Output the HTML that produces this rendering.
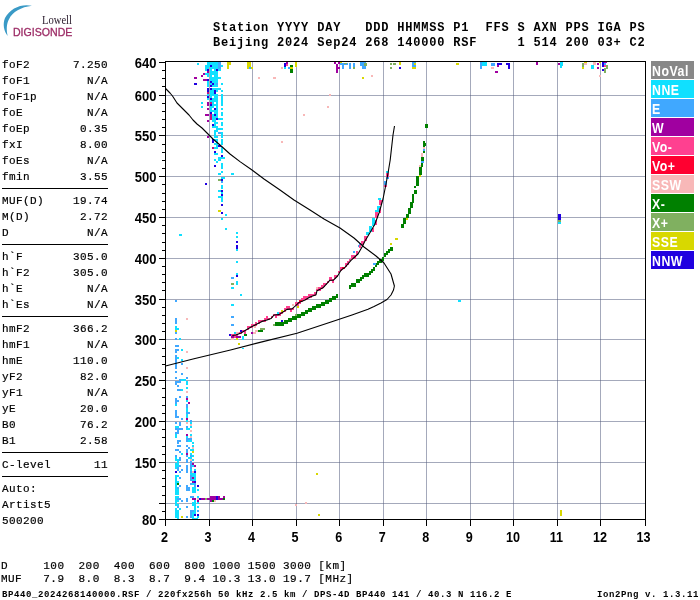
<!DOCTYPE html>
<html><head><meta charset="utf-8"><title>Ionogram</title>
<style>
html,body{margin:0;padding:0;background:#fff;}
body{width:700px;height:600px;position:relative;overflow:hidden;font-family:"Liberation Mono",monospace;color:#000;}
.t{position:absolute;white-space:pre;font-family:"Liberation Mono",monospace;font-size:11px;letter-spacing:0.4px;line-height:16px;height:16px;-webkit-text-stroke:0.2px #000;}
.v{text-align:right;width:106px;left:2px;}
.hd{position:absolute;white-space:pre;font-family:"Liberation Mono",monospace;font-weight:bold;font-size:12px;letter-spacing:0.81px;line-height:16px;left:213px;}
.ft{position:absolute;white-space:pre;font-family:"Liberation Mono",monospace;font-weight:bold;font-size:9px;letter-spacing:0.6px;line-height:12px;}
.hr{position:absolute;left:2px;width:106px;height:1px;background:#000;}
.lg{position:absolute;left:651px;width:43px;height:18px;color:#fff;font-family:"Liberation Sans",sans-serif;font-weight:bold;font-size:13px;line-height:18px;text-indent:2px;white-space:pre;}
svg{position:absolute;left:0;top:0;}
svg text{font-family:"Liberation Sans",sans-serif;font-weight:bold;font-size:14px;fill:#000;}
</style></head><body><div id="wrap" style="position:absolute;left:0;top:0;width:700px;height:600px;will-change:transform;">

<div class="t" style="left:2px;top:57px">foF2</div>
<div class="t v" style="top:57px">7.250</div>
<div class="t" style="left:2px;top:73px">foF1</div>
<div class="t v" style="top:73px">N/A</div>
<div class="t" style="left:2px;top:89px">foF1p</div>
<div class="t v" style="top:89px">N/A</div>
<div class="t" style="left:2px;top:105px">foE</div>
<div class="t v" style="top:105px">N/A</div>
<div class="t" style="left:2px;top:121px">foEp</div>
<div class="t v" style="top:121px">0.35</div>
<div class="t" style="left:2px;top:137px">fxI</div>
<div class="t v" style="top:137px">8.00</div>
<div class="t" style="left:2px;top:153px">foEs</div>
<div class="t v" style="top:153px">N/A</div>
<div class="t" style="left:2px;top:169px">fmin</div>
<div class="t v" style="top:169px">3.55</div>
<div class="t" style="left:2px;top:193px">MUF(D)</div>
<div class="t v" style="top:193px">19.74</div>
<div class="t" style="left:2px;top:209px">M(D)</div>
<div class="t v" style="top:209px">2.72</div>
<div class="t" style="left:2px;top:225px">D</div>
<div class="t v" style="top:225px">N/A</div>
<div class="t" style="left:2px;top:249px">h`F</div>
<div class="t v" style="top:249px">305.0</div>
<div class="t" style="left:2px;top:265px">h`F2</div>
<div class="t v" style="top:265px">305.0</div>
<div class="t" style="left:2px;top:281px">h`E</div>
<div class="t v" style="top:281px">N/A</div>
<div class="t" style="left:2px;top:297px">h`Es</div>
<div class="t v" style="top:297px">N/A</div>
<div class="t" style="left:2px;top:321px">hmF2</div>
<div class="t v" style="top:321px">366.2</div>
<div class="t" style="left:2px;top:337px">hmF1</div>
<div class="t v" style="top:337px">N/A</div>
<div class="t" style="left:2px;top:353px">hmE</div>
<div class="t v" style="top:353px">110.0</div>
<div class="t" style="left:2px;top:369px">yF2</div>
<div class="t v" style="top:369px">82.0</div>
<div class="t" style="left:2px;top:385px">yF1</div>
<div class="t v" style="top:385px">N/A</div>
<div class="t" style="left:2px;top:401px">yE</div>
<div class="t v" style="top:401px">20.0</div>
<div class="t" style="left:2px;top:417px">B0</div>
<div class="t v" style="top:417px">76.2</div>
<div class="t" style="left:2px;top:433px">B1</div>
<div class="t v" style="top:433px">2.58</div>
<div class="t" style="left:2px;top:457px">C-level</div>
<div class="t v" style="top:457px">11</div>
<div class="t" style="left:2px;top:481px">Auto:</div>
<div class="t" style="left:2px;top:497px">Artist5</div>
<div class="t" style="left:2px;top:513px">500200</div>
<div class="hr" style="top:188px"></div>
<div class="hr" style="top:244px"></div>
<div class="hr" style="top:316px"></div>
<div class="hr" style="top:452px"></div>
<div class="hr" style="top:476px"></div>
<div class="hd" style="top:20px">Station YYYY DAY   DDD HHMMSS P1  FFS S AXN PPS IGA PS</div>
<div class="hd" style="top:35px">Beijing 2024 Sep24 268 140000 RSF     1 514 200 03+ C2</div>
<div class="t" style="left:1px;top:558px;letter-spacing:0.45px">D     100  200  400  600  800 1000 1500 3000 [km]</div>
<div class="t" style="left:1px;top:571px;letter-spacing:0.45px">MUF   7.9  8.0  8.3  8.7  9.4 10.3 13.0 19.7 [MHz]</div>
<div class="ft" style="left:2px;top:589px">BP440_2024268140000.RSF / 220fx256h 50 kHz 2.5 km / DPS-4D BP440 141 / 40.3 N 116.2 E</div>
<div class="ft" style="left:597px;top:589px">Ion2Png v. 1.3.11</div>
<div class="lg" style="top:61px;background:#888888"></div>
<div class="lg" style="top:80px;background:#10e0ff"></div>
<div class="lg" style="top:99px;background:#40a8ff"></div>
<div class="lg" style="top:118px;background:#a000a0"></div>
<div class="lg" style="top:137px;background:#ff4090"></div>
<div class="lg" style="top:156px;background:#ff0030"></div>
<div class="lg" style="top:175px;background:#f8b8b8"></div>
<div class="lg" style="top:194px;background:#008000"></div>
<div class="lg" style="top:213px;background:#80b060"></div>
<div class="lg" style="top:232px;background:#d8d800"></div>
<div class="lg" style="top:251px;background:#2000e0"></div>
<svg width="160" height="60" viewBox="0 0 160 60">
<path d="M32 5.8 C 22 3.3, 10 8, 5 18 C 2.5 24, 3.8 31, 7.7 36 C 6.3 30, 6.4 24, 9 19.3 C 12.5 12, 21 7, 32 5.8 Z" fill="#3a9ac6"/>
<text x="42" y="23.8" style="font-family:'Liberation Serif',serif;font-weight:normal;font-size:11.5px;fill:#2e2030" textLength="30" lengthAdjust="spacingAndGlyphs">Lowell</text>
<text x="12.9" y="36.2" style="font-family:'Liberation Sans',sans-serif;font-weight:normal;font-size:11.5px;fill:#9c2c66;stroke:#9c2c66;stroke-width:0.3px" textLength="59.5" lengthAdjust="spacingAndGlyphs">DIGISONDE</text>
</svg>
<svg width="700" height="600" viewBox="0 0 700 600" shape-rendering="crispEdges">
<rect x="166" y="503" width="479" height="1" fill="#a4a9bb"/>
<rect x="166" y="462" width="479" height="1" fill="#a4a9bb"/>
<rect x="166" y="421" width="479" height="1" fill="#a4a9bb"/>
<rect x="166" y="380" width="479" height="1" fill="#a4a9bb"/>
<rect x="166" y="339" width="479" height="1" fill="#a4a9bb"/>
<rect x="166" y="299" width="479" height="1" fill="#a4a9bb"/>
<rect x="166" y="258" width="479" height="1" fill="#a4a9bb"/>
<rect x="166" y="217" width="479" height="1" fill="#a4a9bb"/>
<rect x="166" y="176" width="479" height="1" fill="#a4a9bb"/>
<rect x="166" y="135" width="479" height="1" fill="#a4a9bb"/>
<rect x="166" y="95" width="479" height="1" fill="#a4a9bb"/>
<rect x="209" y="62" width="1" height="457" fill="#a4a9bb"/>
<rect x="252" y="62" width="1" height="457" fill="#a4a9bb"/>
<rect x="296" y="62" width="1" height="457" fill="#a4a9bb"/>
<rect x="339" y="62" width="1" height="457" fill="#a4a9bb"/>
<rect x="383" y="62" width="1" height="457" fill="#a4a9bb"/>
<rect x="426" y="62" width="1" height="457" fill="#a4a9bb"/>
<rect x="470" y="62" width="1" height="457" fill="#a4a9bb"/>
<rect x="513" y="62" width="1" height="457" fill="#a4a9bb"/>
<rect x="557" y="62" width="1" height="457" fill="#a4a9bb"/>
<rect x="600" y="62" width="1" height="457" fill="#a4a9bb"/>
<rect x="209" y="503" width="1" height="1" fill="#7a8098"/>
<rect x="209" y="462" width="1" height="1" fill="#7a8098"/>
<rect x="209" y="421" width="1" height="1" fill="#7a8098"/>
<rect x="209" y="380" width="1" height="1" fill="#7a8098"/>
<rect x="209" y="339" width="1" height="1" fill="#7a8098"/>
<rect x="209" y="299" width="1" height="1" fill="#7a8098"/>
<rect x="209" y="258" width="1" height="1" fill="#7a8098"/>
<rect x="209" y="217" width="1" height="1" fill="#7a8098"/>
<rect x="209" y="176" width="1" height="1" fill="#7a8098"/>
<rect x="209" y="135" width="1" height="1" fill="#7a8098"/>
<rect x="209" y="95" width="1" height="1" fill="#7a8098"/>
<rect x="252" y="503" width="1" height="1" fill="#7a8098"/>
<rect x="252" y="462" width="1" height="1" fill="#7a8098"/>
<rect x="252" y="421" width="1" height="1" fill="#7a8098"/>
<rect x="252" y="380" width="1" height="1" fill="#7a8098"/>
<rect x="252" y="339" width="1" height="1" fill="#7a8098"/>
<rect x="252" y="299" width="1" height="1" fill="#7a8098"/>
<rect x="252" y="258" width="1" height="1" fill="#7a8098"/>
<rect x="252" y="217" width="1" height="1" fill="#7a8098"/>
<rect x="252" y="176" width="1" height="1" fill="#7a8098"/>
<rect x="252" y="135" width="1" height="1" fill="#7a8098"/>
<rect x="252" y="95" width="1" height="1" fill="#7a8098"/>
<rect x="296" y="503" width="1" height="1" fill="#7a8098"/>
<rect x="296" y="462" width="1" height="1" fill="#7a8098"/>
<rect x="296" y="421" width="1" height="1" fill="#7a8098"/>
<rect x="296" y="380" width="1" height="1" fill="#7a8098"/>
<rect x="296" y="339" width="1" height="1" fill="#7a8098"/>
<rect x="296" y="299" width="1" height="1" fill="#7a8098"/>
<rect x="296" y="258" width="1" height="1" fill="#7a8098"/>
<rect x="296" y="217" width="1" height="1" fill="#7a8098"/>
<rect x="296" y="176" width="1" height="1" fill="#7a8098"/>
<rect x="296" y="135" width="1" height="1" fill="#7a8098"/>
<rect x="296" y="95" width="1" height="1" fill="#7a8098"/>
<rect x="339" y="503" width="1" height="1" fill="#7a8098"/>
<rect x="339" y="462" width="1" height="1" fill="#7a8098"/>
<rect x="339" y="421" width="1" height="1" fill="#7a8098"/>
<rect x="339" y="380" width="1" height="1" fill="#7a8098"/>
<rect x="339" y="339" width="1" height="1" fill="#7a8098"/>
<rect x="339" y="299" width="1" height="1" fill="#7a8098"/>
<rect x="339" y="258" width="1" height="1" fill="#7a8098"/>
<rect x="339" y="217" width="1" height="1" fill="#7a8098"/>
<rect x="339" y="176" width="1" height="1" fill="#7a8098"/>
<rect x="339" y="135" width="1" height="1" fill="#7a8098"/>
<rect x="339" y="95" width="1" height="1" fill="#7a8098"/>
<rect x="383" y="503" width="1" height="1" fill="#7a8098"/>
<rect x="383" y="462" width="1" height="1" fill="#7a8098"/>
<rect x="383" y="421" width="1" height="1" fill="#7a8098"/>
<rect x="383" y="380" width="1" height="1" fill="#7a8098"/>
<rect x="383" y="339" width="1" height="1" fill="#7a8098"/>
<rect x="383" y="299" width="1" height="1" fill="#7a8098"/>
<rect x="383" y="258" width="1" height="1" fill="#7a8098"/>
<rect x="383" y="217" width="1" height="1" fill="#7a8098"/>
<rect x="383" y="176" width="1" height="1" fill="#7a8098"/>
<rect x="383" y="135" width="1" height="1" fill="#7a8098"/>
<rect x="383" y="95" width="1" height="1" fill="#7a8098"/>
<rect x="426" y="503" width="1" height="1" fill="#7a8098"/>
<rect x="426" y="462" width="1" height="1" fill="#7a8098"/>
<rect x="426" y="421" width="1" height="1" fill="#7a8098"/>
<rect x="426" y="380" width="1" height="1" fill="#7a8098"/>
<rect x="426" y="339" width="1" height="1" fill="#7a8098"/>
<rect x="426" y="299" width="1" height="1" fill="#7a8098"/>
<rect x="426" y="258" width="1" height="1" fill="#7a8098"/>
<rect x="426" y="217" width="1" height="1" fill="#7a8098"/>
<rect x="426" y="176" width="1" height="1" fill="#7a8098"/>
<rect x="426" y="135" width="1" height="1" fill="#7a8098"/>
<rect x="426" y="95" width="1" height="1" fill="#7a8098"/>
<rect x="470" y="503" width="1" height="1" fill="#7a8098"/>
<rect x="470" y="462" width="1" height="1" fill="#7a8098"/>
<rect x="470" y="421" width="1" height="1" fill="#7a8098"/>
<rect x="470" y="380" width="1" height="1" fill="#7a8098"/>
<rect x="470" y="339" width="1" height="1" fill="#7a8098"/>
<rect x="470" y="299" width="1" height="1" fill="#7a8098"/>
<rect x="470" y="258" width="1" height="1" fill="#7a8098"/>
<rect x="470" y="217" width="1" height="1" fill="#7a8098"/>
<rect x="470" y="176" width="1" height="1" fill="#7a8098"/>
<rect x="470" y="135" width="1" height="1" fill="#7a8098"/>
<rect x="470" y="95" width="1" height="1" fill="#7a8098"/>
<rect x="513" y="503" width="1" height="1" fill="#7a8098"/>
<rect x="513" y="462" width="1" height="1" fill="#7a8098"/>
<rect x="513" y="421" width="1" height="1" fill="#7a8098"/>
<rect x="513" y="380" width="1" height="1" fill="#7a8098"/>
<rect x="513" y="339" width="1" height="1" fill="#7a8098"/>
<rect x="513" y="299" width="1" height="1" fill="#7a8098"/>
<rect x="513" y="258" width="1" height="1" fill="#7a8098"/>
<rect x="513" y="217" width="1" height="1" fill="#7a8098"/>
<rect x="513" y="176" width="1" height="1" fill="#7a8098"/>
<rect x="513" y="135" width="1" height="1" fill="#7a8098"/>
<rect x="513" y="95" width="1" height="1" fill="#7a8098"/>
<rect x="557" y="503" width="1" height="1" fill="#7a8098"/>
<rect x="557" y="462" width="1" height="1" fill="#7a8098"/>
<rect x="557" y="421" width="1" height="1" fill="#7a8098"/>
<rect x="557" y="380" width="1" height="1" fill="#7a8098"/>
<rect x="557" y="339" width="1" height="1" fill="#7a8098"/>
<rect x="557" y="299" width="1" height="1" fill="#7a8098"/>
<rect x="557" y="258" width="1" height="1" fill="#7a8098"/>
<rect x="557" y="217" width="1" height="1" fill="#7a8098"/>
<rect x="557" y="176" width="1" height="1" fill="#7a8098"/>
<rect x="557" y="135" width="1" height="1" fill="#7a8098"/>
<rect x="557" y="95" width="1" height="1" fill="#7a8098"/>
<rect x="600" y="503" width="1" height="1" fill="#7a8098"/>
<rect x="600" y="462" width="1" height="1" fill="#7a8098"/>
<rect x="600" y="421" width="1" height="1" fill="#7a8098"/>
<rect x="600" y="380" width="1" height="1" fill="#7a8098"/>
<rect x="600" y="339" width="1" height="1" fill="#7a8098"/>
<rect x="600" y="299" width="1" height="1" fill="#7a8098"/>
<rect x="600" y="258" width="1" height="1" fill="#7a8098"/>
<rect x="600" y="217" width="1" height="1" fill="#7a8098"/>
<rect x="600" y="176" width="1" height="1" fill="#7a8098"/>
<rect x="600" y="135" width="1" height="1" fill="#7a8098"/>
<rect x="600" y="95" width="1" height="1" fill="#7a8098"/>
<path fill="#d8d800" d="M584 62h3v1h-3zM599 62h2v1h-2zM340 62h2v1h-2zM227 61h4v4h-4zM399 62h2v3h-2zM414 63h2v2h-2zM456 63h3v2h-3zM247 62h4v5h-4zM295 62h2v5h-2zM227 65h2v4h-2zM251 67h2v2h-2zM247 67h2v2h-2zM412 67h4v2h-4zM290 67h3v2h-3zM582 67h2v2h-2zM362 77h2v2h-2zM419 175h2v2h-2zM218 210h3v2h-3zM406 218h2v2h-2zM395 238h3v2h-3zM390 243h2v2h-2zM297 306h2v2h-2zM281 310h2v2h-2zM175 330h2v2h-2zM236 338h2v2h-2zM238 343h2v2h-2zM192 451h2v2h-2zM316 473h2v2h-2zM560 510h2v6h-2zM318 514h2v2h-2zM181 516h2v2h-2z"/>
<path fill="#40a8ff" d="M360 62h6v1h-6zM412 62h4v1h-4zM340 63h4v1h-4zM347 63h1v1h-1zM604 63h2v2h-2zM412 63h2v2h-2zM340 64h8v1h-8zM360 63h4v3h-4zM491 63h4v3h-4zM353 63h2v4h-2zM412 65h4v2h-4zM218 61h3v8h-3zM480 62h2v7h-2zM349 63h2v6h-2zM342 65h2v4h-2zM362 66h4v3h-4zM288 67h2v2h-2zM249 67h2v2h-2zM216 83h2v2h-2zM218 132h3v2h-3zM423 149h2v2h-2zM421 161h3v2h-3zM386 177h3v2h-3zM221 181h2v2h-2zM384 181h3v4h-3zM359 243h2v2h-2zM358 245h1v2h-1zM353 251h2v2h-2zM373 263h3v2h-3zM231 277h3v2h-3zM175 300h2v2h-2zM231 316h3v2h-3zM175 318h2v6h-2zM231 324h3v2h-3zM175 332h2v2h-2zM175 338h2v2h-2zM175 345h4v2h-4zM175 349h4v2h-4zM175 351h2v2h-2zM181 363h2v2h-2zM175 355h2v14h-2zM175 371h2v2h-2zM181 373h2v2h-2zM186 377h2v2h-2zM175 377h2v2h-2zM179 379h2v2h-2zM175 381h6v2h-6zM175 383h2v2h-2zM177 385h2v2h-2zM177 389h4v2h-4zM179 396h2v2h-2zM186 396h2v2h-2zM175 398h2v2h-2zM175 400h4v2h-4zM175 402h2v2h-2zM186 404h2v4h-2zM186 412h4v2h-4zM175 410h2v6h-2zM175 416h4v2h-4zM181 418h2v2h-2zM190 420h2v2h-2zM175 422h2v2h-2zM179 422h2v4h-2zM186 426h2v2h-2zM175 428h8v2h-8zM177 430h2v2h-2zM175 432h4v2h-4zM186 438h6v2h-6zM177 440h4v2h-4zM186 440h2v2h-2zM177 442h2v2h-2zM177 445h4v2h-4zM186 445h2v2h-2zM188 447h2v2h-2zM175 449h4v2h-4zM186 449h2v4h-2zM179 451h2v2h-2zM186 455h2v2h-2zM190 455h2v2h-2zM175 455h2v2h-2zM179 457h2v4h-2zM186 459h2v4h-2zM179 465h2v2h-2zM190 461h2v8h-2zM177 467h2v4h-2zM181 469h2v2h-2zM186 465h2v8h-2zM179 471h2v2h-2zM190 471h2v2h-2zM179 477h2v2h-2zM190 475h2v6h-2zM190 483h2v2h-2zM194 483h2v4h-2zM186 485h2v2h-2zM179 485h2v2h-2zM177 487h2v2h-2zM186 487h4v4h-4zM190 496h4v2h-4zM177 498h4v2h-4zM186 498h2v4h-2zM181 500h2v2h-2zM177 506h2v2h-2zM186 506h2v2h-2zM190 510h4v2h-4zM197 510h2v2h-2zM190 512h2v6h-2zM186 516h2v2h-2z"/>
<path fill="#a000a0" d="M604 62h3v1h-3zM286 62h2v2h-2zM338 62h2v2h-2zM334 62h2v2h-2zM536 62h2v3h-2zM597 63h2v2h-2zM558 63h2v2h-2zM336 64h2v3h-2zM497 65h2v2h-2zM336 67h4v2h-4zM597 67h2v2h-2zM336 69h2v4h-2zM207 71h2v2h-2zM495 71h3v2h-3zM203 73h2v2h-2zM201 75h2v2h-2zM194 77h3v2h-3zM203 79h4v2h-4zM207 102h2v4h-2zM207 108h2v2h-2zM205 114h4v2h-4zM207 120h2v2h-2zM207 136h2v2h-2zM251 332h2v2h-2zM231 336h3v2h-3zM236 336h5v2h-5zM186 398h2v2h-2zM188 402h2v2h-2zM186 418h2v2h-2zM186 434h2v2h-2zM186 453h2v2h-2zM192 463h2v2h-2zM194 465h2v2h-2zM192 477h2v2h-2zM192 481h2v2h-2zM223 496h2v2h-2zM210 496h6v2h-6zM218 496h2v2h-2zM192 498h4v2h-4zM218 498h5v2h-5zM201 498h4v2h-4zM207 498h9v2h-9zM210 500h2v2h-2zM197 500h2v2h-2z"/>
<path fill="#80b060" d="M344 63h3v1h-3zM393 63h3v2h-3zM390 63h2v2h-2zM364 63h3v3h-3zM582 63h2v4h-2zM606 65h2v3h-2zM353 67h2v2h-2zM390 67h2v2h-2zM604 68h4v1h-4zM604 69h2v4h-2zM218 179h3v2h-3zM558 220h3v2h-3zM231 283h3v2h-3zM295 314h2v2h-2zM273 324h2v2h-2zM260 328h5v2h-5zM205 498h2v2h-2z"/>
<path fill="#10e0ff" d="M207 61h11v4h-11zM197 63h2v2h-2zM482 62h5v4h-5zM560 62h3v4h-3zM212 65h6v2h-6zM221 65h2v2h-2zM205 65h5v2h-5zM560 66h2v2h-2zM591 65h3v4h-3zM205 67h4v2h-4zM210 67h8v2h-8zM284 67h2v2h-2zM205 69h2v2h-2zM214 69h2v2h-2zM218 69h3v2h-3zM210 69h2v2h-2zM210 71h8v4h-8zM205 73h4v2h-4zM214 75h4v2h-4zM207 75h2v2h-2zM210 75h2v2h-2zM210 77h11v2h-11zM210 79h8v2h-8zM212 81h6v2h-6zM214 83h2v2h-2zM210 83h2v2h-2zM221 83h2v2h-2zM207 81h2v6h-2zM212 85h6v2h-6zM212 88h9v2h-9zM221 90h2v2h-2zM216 90h2v2h-2zM210 90h4v4h-4zM210 94h8v2h-8zM207 94h2v2h-2zM214 96h4v2h-4zM210 96h2v2h-2zM207 98h2v2h-2zM212 98h6v2h-6zM210 100h8v2h-8zM212 102h2v2h-2zM201 102h2v2h-2zM216 102h2v2h-2zM221 94h2v12h-2zM212 104h6v2h-6zM210 106h4v2h-4zM201 106h2v2h-2zM216 106h2v4h-2zM221 108h2v2h-2zM210 108h2v2h-2zM210 110h8v2h-8zM214 112h4v2h-4zM221 112h2v4h-2zM212 114h2v2h-2zM216 114h2v2h-2zM212 116h6v2h-6zM218 118h5v2h-5zM212 118h4v4h-4zM214 122h4v2h-4zM221 122h2v4h-2zM214 124h2v2h-2zM212 126h6v2h-6zM216 128h7v2h-7zM214 130h4v2h-4zM214 132h2v4h-2zM221 132h2v6h-2zM214 136h4v2h-4zM214 139h4v2h-4zM216 141h2v2h-2zM221 139h2v6h-2zM214 143h4v2h-4zM216 145h2v2h-2zM214 147h4v2h-4zM221 147h2v6h-2zM214 153h4v2h-4zM218 157h7v2h-7zM218 159h3v2h-3zM214 159h2v2h-2zM216 161h2v2h-2zM221 163h2v6h-2zM386 171h3v2h-3zM221 171h2v2h-2zM231 173h3v2h-3zM218 173h3v2h-3zM221 177h4v2h-4zM221 185h2v4h-2zM218 190h3v2h-3zM221 192h2v2h-2zM218 196h5v2h-5zM378 198h3v2h-3zM221 198h2v4h-2zM377 206h3v2h-3zM377 208h2v2h-2zM375 210h4v2h-4zM225 214h2v2h-2zM221 218h2v2h-2zM558 222h3v2h-3zM372 218h3v8h-3zM225 228h2v2h-2zM369 226h3v6h-3zM236 232h2v2h-2zM366 232h3v3h-3zM179 234h3v2h-3zM236 236h2v2h-2zM236 249h2v2h-2zM236 261h2v2h-2zM236 273h2v2h-2zM236 281h2v4h-2zM231 287h3v2h-3zM240 294h2v2h-2zM458 300h3v2h-3zM231 304h3v2h-3zM277 312h2v2h-2zM175 326h2v2h-2zM175 328h4v2h-4zM234 332h2v2h-2zM242 336h2v4h-2zM179 338h2v2h-2zM242 348h2v1h-2zM181 349h2v2h-2zM177 357h2v2h-2zM181 359h2v2h-2zM181 379h5v2h-5zM186 381h2v4h-2zM186 387h2v2h-2zM181 389h2v2h-2zM186 400h2v2h-2zM175 404h2v2h-2zM186 408h2v4h-2zM186 414h2v4h-2zM186 420h2v2h-2zM190 422h2v2h-2zM175 426h4v2h-4zM190 426h2v2h-2zM186 428h4v2h-4zM190 434h2v2h-2zM175 434h2v4h-2zM186 436h2v2h-2zM188 440h4v2h-4zM192 442h2v2h-2zM192 445h2v2h-2zM190 449h4v2h-4zM181 453h2v2h-2zM190 453h2v2h-2zM192 455h2v2h-2zM175 457h2v2h-2zM188 457h4v2h-4zM175 459h4v2h-4zM192 459h2v2h-2zM177 461h2v2h-2zM175 463h4v4h-4zM192 465h2v2h-2zM175 467h2v2h-2zM190 469h2v2h-2zM194 469h2v2h-2zM190 473h6v2h-6zM192 475h4v2h-4zM175 475h4v2h-4zM194 477h2v2h-2zM175 477h2v4h-2zM192 479h4v2h-4zM175 481h4v2h-4zM192 483h2v2h-2zM175 483h2v6h-2zM197 489h2v2h-2zM192 487h4v6h-4zM175 489h4v6h-4zM175 496h4v2h-4zM197 496h2v2h-2zM175 498h2v2h-2zM194 500h2v2h-2zM175 500h4v2h-4zM175 502h2v2h-2zM197 502h2v2h-2zM192 502h4v4h-4zM175 504h4v2h-4zM197 506h2v2h-2zM179 508h2v2h-2zM175 508h2v2h-2zM194 506h2v6h-2zM192 512h4v2h-4zM175 510h4v8h-4zM192 514h2v4h-2zM197 516h2v2h-2zM192 518h6v1h-6zM177 518h2v1h-2z"/>
<path fill="#f8b8b8" d="M593 62h3v3h-3zM584 63h3v2h-3zM281 67h2v2h-2zM491 67h3v2h-3zM599 75h2v2h-2zM371 75h2v2h-2zM258 77h2v2h-2zM273 77h3v2h-3zM329 94h2v2h-2zM327 106h2v2h-2zM303 114h2v2h-2zM281 141h2v2h-2zM423 147h2v2h-2zM421 153h2v4h-2zM419 165h2v2h-2zM316 287h2v2h-2zM292 304h2v2h-2zM186 318h2v2h-2zM254 326h2v2h-2zM255 330h3v2h-3zM236 332h3v2h-3zM253 332h3v2h-3zM231 338h3v2h-3zM186 351h2v2h-2zM186 367h2v2h-2zM186 391h2v2h-2zM186 422h2v2h-2zM190 424h2v2h-2zM190 430h2v2h-2zM190 436h2v2h-2zM192 447h2v2h-2zM190 459h2v2h-2zM192 471h2v2h-2zM197 498h2v2h-2zM214 500h2v2h-2zM305 502h2v2h-2zM295 504h2v2h-2z"/>
<path fill="#2000e0" d="M497 63h5v2h-5zM506 63h4v2h-4zM602 62h2v5h-2zM284 63h2v4h-2zM210 65h2v2h-2zM508 65h2v4h-2zM399 67h2v2h-2zM216 69h2v2h-2zM602 69h2v2h-2zM207 69h2v2h-2zM207 79h2v2h-2zM210 81h2v2h-2zM212 83h2v2h-2zM194 83h3v2h-3zM210 85h2v2h-2zM210 88h2v2h-2zM207 88h2v4h-2zM214 90h2v4h-2zM207 96h2v2h-2zM210 98h2v2h-2zM210 104h2v2h-2zM214 108h2v2h-2zM210 112h2v2h-2zM214 114h2v2h-2zM216 118h2v2h-2zM212 124h2v2h-2zM212 139h2v4h-2zM218 145h3v2h-3zM214 151h2v2h-2zM221 155h2v2h-2zM214 165h2v2h-2zM221 179h2v2h-2zM205 183h2v2h-2zM221 190h2v2h-2zM221 194h2v2h-2zM221 204h2v2h-2zM221 212h2v2h-2zM558 214h3v6h-3zM236 241h2v2h-2zM236 245h2v4h-2zM236 275h2v2h-2zM281 320h2v2h-2zM240 330h2v2h-2zM229 334h2v2h-2zM194 471h2v2h-2zM175 471h2v2h-2zM194 481h2v2h-2zM197 485h2v2h-2zM216 496h2v4h-2zM199 498h2v2h-2zM197 514h2v2h-2zM194 514h2v2h-2z"/>
<path fill="#ff4090" d="M286 64h2v2h-2zM604 65h2v2h-2zM386 173h3v4h-3zM384 185h3v2h-3zM379 200h3v5h-3zM379 208h2v5h-2zM375 212h3v6h-3zM375 220h2v5h-2zM372 228h2v4h-2zM364 236h3v5h-3zM361 241h3v4h-3zM359 245h2v3h-2zM356 251h2v4h-2zM351 255h5v4h-5zM349 259h2v2h-2zM347 261h2v2h-2zM345 263h4v2h-4zM345 265h2v2h-2zM340 267h2v4h-2zM338 271h2v2h-2zM334 275h4v2h-4zM334 277h2v2h-2zM329 277h3v2h-3zM329 279h5v2h-5zM332 281h2v2h-2zM327 281h2v2h-2zM323 283h4v2h-4zM321 285h4v2h-4zM318 287h5v2h-5zM316 289h5v2h-5zM314 292h2v2h-2zM308 294h8v2h-8zM303 296h9v2h-9zM301 298h7v2h-7zM302 300h1v2h-1zM295 302h6v2h-6zM295 304h4v2h-4zM286 306h4v2h-4zM284 308h10v2h-10zM284 310h2v2h-2zM290 310h2v2h-2zM279 312h4v2h-4zM273 314h8v2h-8zM275 316h2v2h-2zM266 316h2v2h-2zM271 316h2v2h-2zM264 318h6v2h-6zM258 320h8v2h-8zM255 322h2v2h-2zM258 322h2v2h-2zM251 324h6v2h-6zM247 326h6v2h-6zM247 328h2v2h-2zM242 330h4v2h-4zM244 332h2v2h-2zM239 332h3v2h-3zM231 334h7v2h-7zM234 336h2v2h-2z"/>
<path fill="#008000" d="M290 65h3v2h-3zM290 69h3v4h-3zM425 124h3v4h-3zM423 141h2v2h-2zM423 143h3v3h-3zM423 146h2v1h-2zM423 151h2v2h-2zM421 157h3v4h-3zM421 163h2v4h-2zM419 167h3v8h-3zM416 176h3v10h-3zM414 186h2v2h-2zM414 190h3v4h-3zM412 194h2v8h-2zM410 202h4v1h-4zM410 203h3v5h-3zM408 208h3v6h-3zM406 214h3v4h-3zM403 218h3v6h-3zM401 224h3v4h-3zM390 247h3v2h-3zM388 249h5v2h-5zM386 251h4v2h-4zM384 253h4v2h-4zM384 255h2v2h-2zM382 257h2v2h-2zM379 259h5v2h-5zM377 261h5v2h-5zM376 263h3v2h-3zM375 265h2v2h-2zM373 267h2v2h-2zM371 269h4v2h-4zM369 271h4v2h-4zM364 273h7v2h-7zM362 275h7v2h-7zM360 277h4v2h-4zM356 279h6v2h-6zM356 281h4v2h-4zM351 283h5v2h-5zM349 285h7v2h-7zM349 287h2v2h-2zM336 294h2v2h-2zM332 296h6v2h-6zM329 298h7v2h-7zM325 300h7v2h-7zM321 302h8v2h-8zM316 304h9v2h-9zM312 306h9v2h-9zM308 308h8v2h-8zM305 310h7v2h-7zM301 312h7v2h-7zM297 314h8v2h-8zM292 316h9v2h-9zM288 318h9v2h-9zM284 320h8v2h-8zM275 322h13v2h-13zM275 324h9v2h-9zM258 330h5v2h-5zM244 334h3v2h-3zM177 483h2v2h-2zM223 498h2v2h-2zM212 500h2v2h-2z"/>
<path fill="#c01080" d="M207 92h2v2h-2zM210 102h2v2h-2zM210 114h2v6h-2zM212 147h2v2h-2z"/>
<path fill="#ff0030" d="M342 267h3v2h-3zM299 300h3v2h-3z"/>
<g shape-rendering="auto" fill="none" stroke="#000" stroke-width="1.1" stroke-linejoin="round"><polyline points="232.3,335.5 236.0,335.0 241.0,333.0 246.0,330.0 252.0,326.6 257.0,324.0 262.0,321.4 267.0,320.0 271.0,318.6 274.0,315.0 279.0,314.6 283.0,312.0 287.0,309.4 292.0,308.9 296.0,305.4 299.0,302.4 305.0,300.0 310.0,297.0 316.0,294.8 317.0,290.7 323.0,287.8 330.0,280.2 333.5,280.2 337.6,276.0 341.0,270.3 345.0,267.4 351.0,260.4 358.0,254.0 362.0,247.0 365.0,241.0 369.5,233.5 374.7,224.5 379.2,212.5 383.0,199.0 386.0,184.0 388.2,172.0 390.2,160.0 393.0,135.0 394.5,126.0"/><polyline points="165.6,88.5 170.0,93.0 172.5,96.0 177.0,103.0 183.0,109.0 189.0,115.0 193.0,120.0 197.0,124.0 202.0,128.0 207.0,133.0 210.0,136.0 213.0,139.0 220.0,145.0 230.0,154.0 240.0,161.6 252.0,170.0 264.0,179.0 280.0,190.0 294.0,200.0 310.0,210.0 324.0,219.0 340.0,228.0 354.0,238.0 364.0,247.0 376.0,256.0 384.0,263.0 391.0,274.0 394.4,286.0 393.5,290.0 391.0,295.0 387.0,299.5 381.0,303.0 374.0,306.5 368.0,309.3 352.0,315.0 331.0,322.0 297.0,333.2 263.0,341.6 230.5,350.0 194.0,358.7 165.5,366.0"/></g>
<rect x="165" y="61" width="481" height="1" fill="#000"/>
<rect x="165" y="61" width="1" height="459" fill="#000"/>
<rect x="645" y="61" width="1" height="459" fill="#000"/>
<rect x="159" y="519" width="487" height="1" fill="#000"/>
<rect x="159" y="519" width="6" height="1" fill="#000"/>
<rect x="162" y="511" width="3" height="1" fill="#000"/>
<rect x="159" y="503" width="6" height="1" fill="#000"/>
<rect x="162" y="495" width="3" height="1" fill="#000"/>
<rect x="162" y="486" width="3" height="1" fill="#000"/>
<rect x="162" y="478" width="3" height="1" fill="#000"/>
<rect x="162" y="470" width="3" height="1" fill="#000"/>
<rect x="159" y="462" width="6" height="1" fill="#000"/>
<rect x="162" y="454" width="3" height="1" fill="#000"/>
<rect x="162" y="446" width="3" height="1" fill="#000"/>
<rect x="162" y="437" width="3" height="1" fill="#000"/>
<rect x="162" y="429" width="3" height="1" fill="#000"/>
<rect x="159" y="421" width="6" height="1" fill="#000"/>
<rect x="162" y="413" width="3" height="1" fill="#000"/>
<rect x="162" y="405" width="3" height="1" fill="#000"/>
<rect x="162" y="397" width="3" height="1" fill="#000"/>
<rect x="162" y="388" width="3" height="1" fill="#000"/>
<rect x="159" y="380" width="6" height="1" fill="#000"/>
<rect x="162" y="372" width="3" height="1" fill="#000"/>
<rect x="162" y="364" width="3" height="1" fill="#000"/>
<rect x="162" y="356" width="3" height="1" fill="#000"/>
<rect x="162" y="348" width="3" height="1" fill="#000"/>
<rect x="159" y="339" width="6" height="1" fill="#000"/>
<rect x="162" y="331" width="3" height="1" fill="#000"/>
<rect x="162" y="323" width="3" height="1" fill="#000"/>
<rect x="162" y="315" width="3" height="1" fill="#000"/>
<rect x="162" y="307" width="3" height="1" fill="#000"/>
<rect x="159" y="299" width="6" height="1" fill="#000"/>
<rect x="162" y="290" width="3" height="1" fill="#000"/>
<rect x="162" y="282" width="3" height="1" fill="#000"/>
<rect x="162" y="274" width="3" height="1" fill="#000"/>
<rect x="162" y="266" width="3" height="1" fill="#000"/>
<rect x="159" y="258" width="6" height="1" fill="#000"/>
<rect x="162" y="250" width="3" height="1" fill="#000"/>
<rect x="162" y="242" width="3" height="1" fill="#000"/>
<rect x="162" y="233" width="3" height="1" fill="#000"/>
<rect x="162" y="225" width="3" height="1" fill="#000"/>
<rect x="159" y="217" width="6" height="1" fill="#000"/>
<rect x="162" y="209" width="3" height="1" fill="#000"/>
<rect x="162" y="201" width="3" height="1" fill="#000"/>
<rect x="162" y="193" width="3" height="1" fill="#000"/>
<rect x="162" y="184" width="3" height="1" fill="#000"/>
<rect x="159" y="176" width="6" height="1" fill="#000"/>
<rect x="162" y="168" width="3" height="1" fill="#000"/>
<rect x="162" y="160" width="3" height="1" fill="#000"/>
<rect x="162" y="152" width="3" height="1" fill="#000"/>
<rect x="162" y="144" width="3" height="1" fill="#000"/>
<rect x="159" y="135" width="6" height="1" fill="#000"/>
<rect x="162" y="127" width="3" height="1" fill="#000"/>
<rect x="162" y="119" width="3" height="1" fill="#000"/>
<rect x="162" y="111" width="3" height="1" fill="#000"/>
<rect x="162" y="103" width="3" height="1" fill="#000"/>
<rect x="159" y="95" width="6" height="1" fill="#000"/>
<rect x="162" y="86" width="3" height="1" fill="#000"/>
<rect x="162" y="78" width="3" height="1" fill="#000"/>
<rect x="162" y="70" width="3" height="1" fill="#000"/>
<rect x="159" y="62" width="6" height="1" fill="#000"/>
<rect x="165" y="520" width="1" height="6" fill="#000"/>
<rect x="209" y="520" width="1" height="6" fill="#000"/>
<rect x="252" y="520" width="1" height="6" fill="#000"/>
<rect x="296" y="520" width="1" height="6" fill="#000"/>
<rect x="339" y="520" width="1" height="6" fill="#000"/>
<rect x="383" y="520" width="1" height="6" fill="#000"/>
<rect x="426" y="520" width="1" height="6" fill="#000"/>
<rect x="470" y="520" width="1" height="6" fill="#000"/>
<rect x="513" y="520" width="1" height="6" fill="#000"/>
<rect x="557" y="520" width="1" height="6" fill="#000"/>
<rect x="600" y="520" width="1" height="6" fill="#000"/>
<rect x="645" y="520" width="1" height="6" fill="#000"/>
</svg>
<svg width="700" height="600" viewBox="0 0 700 600">
<text transform="translate(156.5,67.5) scale(0.93,1)" text-anchor="end">640</text>
<text transform="translate(156.5,100.5) scale(0.93,1)" text-anchor="end">600</text>
<text transform="translate(156.5,140.5) scale(0.93,1)" text-anchor="end">550</text>
<text transform="translate(156.5,181.5) scale(0.93,1)" text-anchor="end">500</text>
<text transform="translate(156.5,222.5) scale(0.93,1)" text-anchor="end">450</text>
<text transform="translate(156.5,263.5) scale(0.93,1)" text-anchor="end">400</text>
<text transform="translate(156.5,304.5) scale(0.93,1)" text-anchor="end">350</text>
<text transform="translate(156.5,344.5) scale(0.93,1)" text-anchor="end">300</text>
<text transform="translate(156.5,385.5) scale(0.93,1)" text-anchor="end">250</text>
<text transform="translate(156.5,426.5) scale(0.93,1)" text-anchor="end">200</text>
<text transform="translate(156.5,467.5) scale(0.93,1)" text-anchor="end">150</text>
<text transform="translate(156.5,524.5) scale(0.93,1)" text-anchor="end">80</text>
<text transform="translate(164.5,542) scale(0.9,1)" text-anchor="middle">2</text>
<text transform="translate(208.0,542) scale(0.9,1)" text-anchor="middle">3</text>
<text transform="translate(251.6,542) scale(0.9,1)" text-anchor="middle">4</text>
<text transform="translate(295.1,542) scale(0.9,1)" text-anchor="middle">5</text>
<text transform="translate(338.7,542) scale(0.9,1)" text-anchor="middle">6</text>
<text transform="translate(382.2,542) scale(0.9,1)" text-anchor="middle">7</text>
<text transform="translate(425.8,542) scale(0.9,1)" text-anchor="middle">8</text>
<text transform="translate(469.3,542) scale(0.9,1)" text-anchor="middle">9</text>
<text transform="translate(512.9,542) scale(0.9,1)" text-anchor="middle">10</text>
<text transform="translate(556.4,542) scale(0.9,1)" text-anchor="middle">11</text>
<text transform="translate(600.0,542) scale(0.9,1)" text-anchor="middle">12</text>
<text transform="translate(643.5,542) scale(0.9,1)" text-anchor="middle">13</text>
<text transform="translate(652,76) scale(0.88,1)" style="fill:#fff;letter-spacing:0.6px">NoVal</text>
<text transform="translate(652,95) scale(0.88,1)" style="fill:#fff;letter-spacing:0.6px">NNE</text>
<text transform="translate(652,114) scale(0.88,1)" style="fill:#fff;letter-spacing:0.6px">E</text>
<text transform="translate(652,133) scale(0.88,1)" style="fill:#fff;letter-spacing:0.6px">W</text>
<text transform="translate(652,152) scale(0.88,1)" style="fill:#fff;letter-spacing:0.6px">Vo-</text>
<text transform="translate(652,171) scale(0.88,1)" style="fill:#fff;letter-spacing:0.6px">Vo+</text>
<text transform="translate(652,190) scale(0.88,1)" style="fill:#fff;letter-spacing:0.6px">SSW</text>
<text transform="translate(652,209) scale(0.88,1)" style="fill:#fff;letter-spacing:0.6px">X-</text>
<text transform="translate(652,228) scale(0.88,1)" style="fill:#fff;letter-spacing:0.6px">X+</text>
<text transform="translate(652,247) scale(0.88,1)" style="fill:#fff;letter-spacing:0.6px">SSE</text>
<text transform="translate(652,266) scale(0.88,1)" style="fill:#fff;letter-spacing:0.6px">NNW</text>
</svg>
</div></body></html>
